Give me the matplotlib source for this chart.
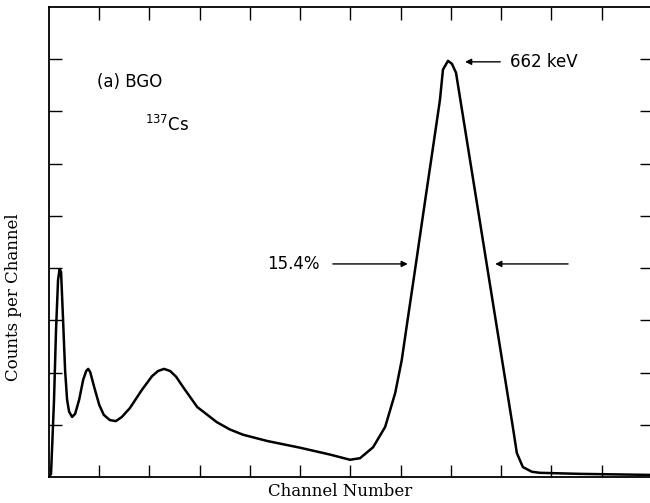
import matplotlib
matplotlib.use("Agg")
import matplotlib.pyplot as plt

# BGO spectrum of 137Cs (arbitrary units)
channel = [0.00, 0.04, 0.06, 0.10, 0.14, 0.18, 0.21, 0.24, 0.28, 0.32, 0.36,
           0.40, 0.46, 0.52, 0.60, 0.68, 0.74, 0.78, 0.82, 0.90, 1.00, 1.09,
           1.21, 1.33, 1.45, 1.61, 1.85, 2.05, 2.17, 2.29, 2.41, 2.53, 2.67,
           2.95, 3.34, 3.60, 3.86, 4.34, 5.00, 5.59, 5.99, 6.19, 6.45, 6.69,
           6.89, 7.02, 7.12, 7.22, 7.30, 7.38, 7.52, 7.64, 7.78, 7.84, 7.94,
           8.02, 8.10, 8.18, 8.32, 8.48, 8.62, 8.70, 8.78, 8.92, 9.03, 9.13,
           9.23, 9.31, 9.43, 9.61, 9.77, 10.57, 11.96]
counts = [0.00, 0.06, 0.52, 1.48, 2.82, 3.77, 3.98, 3.93, 3.01, 2.05, 1.48,
          1.25, 1.15, 1.21, 1.48, 1.86, 2.03, 2.07, 2.01, 1.72, 1.38, 1.19,
          1.09, 1.07, 1.15, 1.32, 1.67, 1.93, 2.03, 2.07, 2.03, 1.92, 1.72,
          1.34, 1.05, 0.91, 0.81, 0.69, 0.56, 0.43, 0.33, 0.36, 0.57, 0.96,
          1.61, 2.24, 2.90, 3.55, 4.07, 4.60, 5.52, 6.30, 7.22, 7.80, 7.97,
          7.91, 7.74, 7.26, 6.42, 5.46, 4.62, 4.14, 3.66, 2.82, 2.16, 1.56,
          0.96, 0.46, 0.19, 0.10, 0.08, 0.06, 0.04]

xticks = list(range(1, 12))
yticks = list(range(1, 9))

peak_label = "662 keV"
fwhm_label = "15.4%"

fig = plt.figure(figsize=(6.5, 5.03), dpi=100)
ax = fig.add_axes([49/650, 26/503, 603/650, 470/503])

ax.plot(channel, counts, color="black", lw=1.8, solid_joinstyle="round")

ax.set_xlim(0, 12)
ax.set_ylim(0, 9)
ax.set_xticks(xticks)
ax.set_yticks(yticks)
ax.tick_params(direction="in", length=9, width=1, top=True, right=True,
               labelbottom=False, labelleft=False)
for s in ax.spines.values():
    s.set_linewidth(1.3)

arrow = dict(arrowstyle="-|>", color="black", lw=1, mutation_scale=9,
             shrinkA=0, shrinkB=0)
ax.annotate("", xy=(8.28, 7.95), xytext=(8.98, 7.95), arrowprops=arrow)
ax.text(9.17, 7.95, peak_label, fontsize=12, va="center", ha="left")

ax.annotate("", xy=(7.14, 4.08), xytext=(5.65, 4.08), arrowprops=arrow)
ax.annotate("", xy=(8.88, 4.08), xytext=(10.33, 4.08), arrowprops=arrow)
ax.text(5.39, 4.08, fwhm_label, fontsize=12, va="center", ha="right")

ax.text(0.96, 7.57, "(a) BGO", fontsize=12, va="center", ha="left")
ax.text(1.91, 6.74, r"$^{137}$Cs", fontsize=12, va="center", ha="left")

ax.set_ylabel("Counts per Channel", fontsize=12, family="DejaVu Serif")
ax.yaxis.set_label_coords(-0.045, 0.383)
ax.set_xlabel("Channel Number", fontsize=12, family="DejaVu Serif")
ax.xaxis.set_label_coords(0.483, -0.012)

fig.savefig("out.png", dpi=100)
